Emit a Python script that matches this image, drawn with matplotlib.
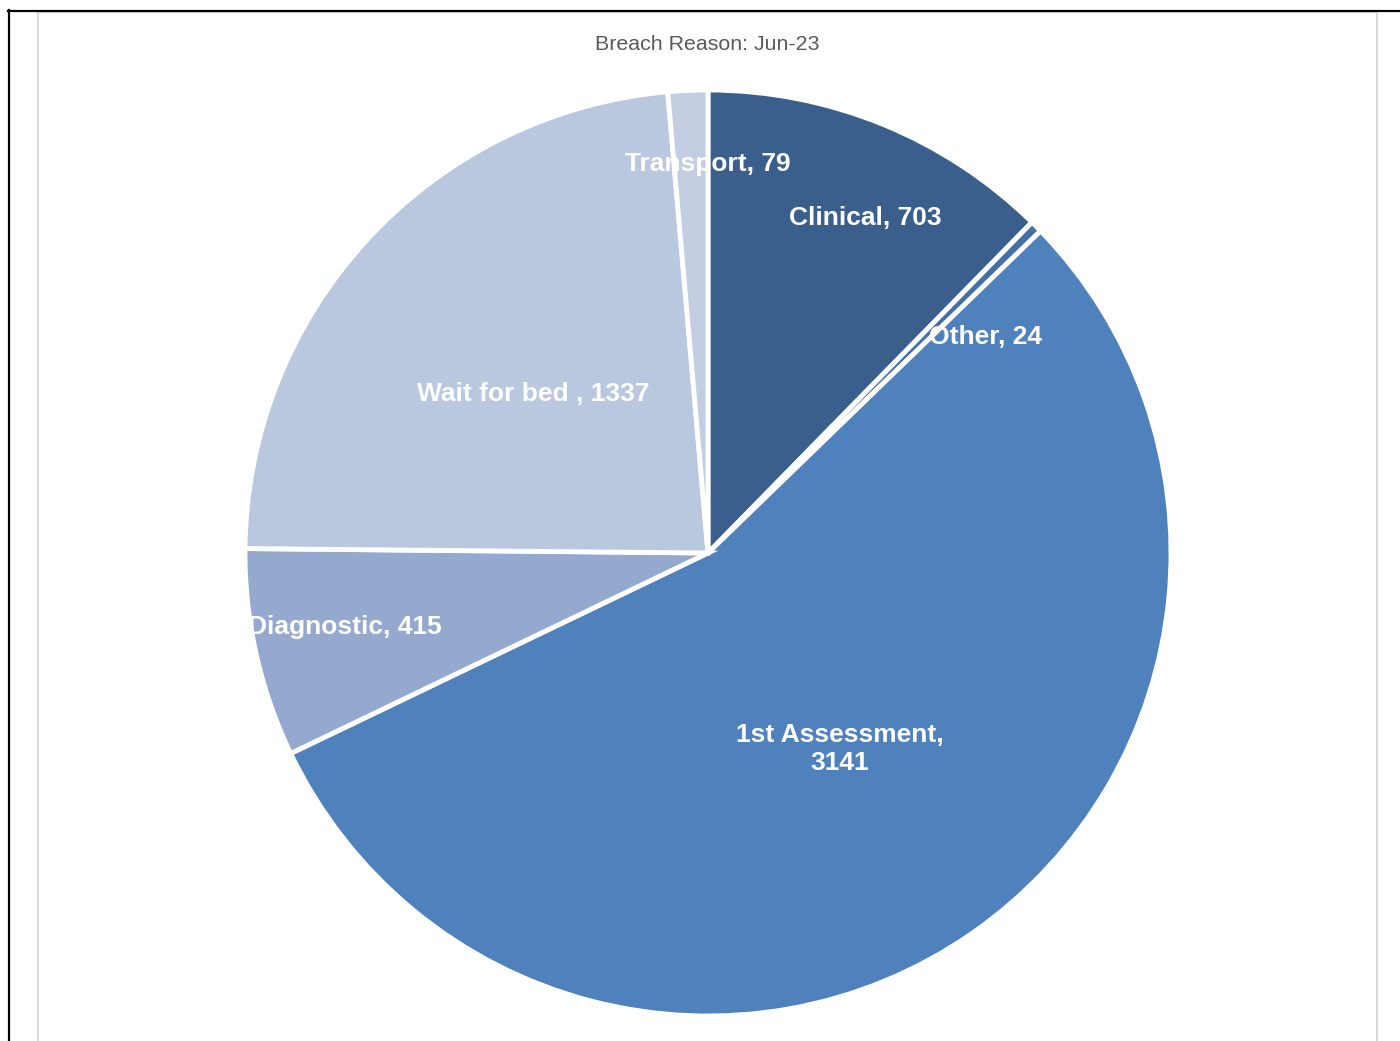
import numpy as np
import matplotlib.pyplot as plt
from matplotlib.lines import Line2D

plt.rcParams['font.family'] = ['Liberation Sans', 'DejaVu Sans']

# data
labels = ['Clinical', 'Other', '1st Assessment', 'Diagnostic', 'Wait for bed ', 'Transport']
values = [703, 24, 3141, 415, 1337, 79]
colors = ['#3A5F8D', '#4470A6', '#4F81BD', '#95A9CF', '#B9C7DF', '#C3CEE3']
label_text = ['Clinical, 703', 'Other, 24', '1st Assessment,\n3141', 'Diagnostic, 415',
              'Wait for bed , 1337', 'Transport, 79']
# label placement (fraction of radius, angular nudge in degrees)
label_dist = [0.80, 0.76, 0.51, 0.80, 0.51, 0.84]
label_shift = [-3.0, -7.0, -1.0, -1.0, 0.6, -2.5]

fig = plt.figure(figsize=(14, 10.41), dpi=100)

# frame lines like the spreadsheet export
fig.add_artist(Line2D([37/1400, 1377/1400], [1-12/1041]*2, color='#D9D9D9', lw=1.5))
fig.add_artist(Line2D([37.5/1400]*2, [0, 1-12/1041], color='#D9D9D9', lw=1.5))
fig.add_artist(Line2D([1376.5/1400]*2, [0, 1-12/1041], color='#D9D9D9', lw=1.5))
fig.add_artist(Line2D([8/1400, 1], [1-10.5/1041]*2, color='black', lw=1.6))
fig.add_artist(Line2D([8.5/1400]*2, [0, 1-10/1041], color='black', lw=1.6))

fig.text(707/1400, 1-44/1041, 'Breach Reason: Jun-23', ha='center', va='center',
         fontsize=15.4, color='#595959')

ax = fig.add_axes([245/1400, 25/1041, 926/1400, 926/1041])
wedges, _ = ax.pie(values, colors=colors, startangle=90, counterclock=False,
                   wedgeprops=dict(edgecolor='white', linewidth=3.5))
ax.set_xlim(-1, 1)
ax.set_ylim(-1, 1)
ax.set_aspect('equal')
ax.axis('off')

for w, txt, d, s in zip(wedges, label_text, label_dist, label_shift):
    ang = np.deg2rad((w.theta1 + w.theta2) / 2 + s)
    ax.text(d * np.cos(ang), d * np.sin(ang), txt, ha='center', va='center',
            fontsize=19, fontweight='bold', color='white', linespacing=1.25)

fig.savefig('out.png', dpi=100)
